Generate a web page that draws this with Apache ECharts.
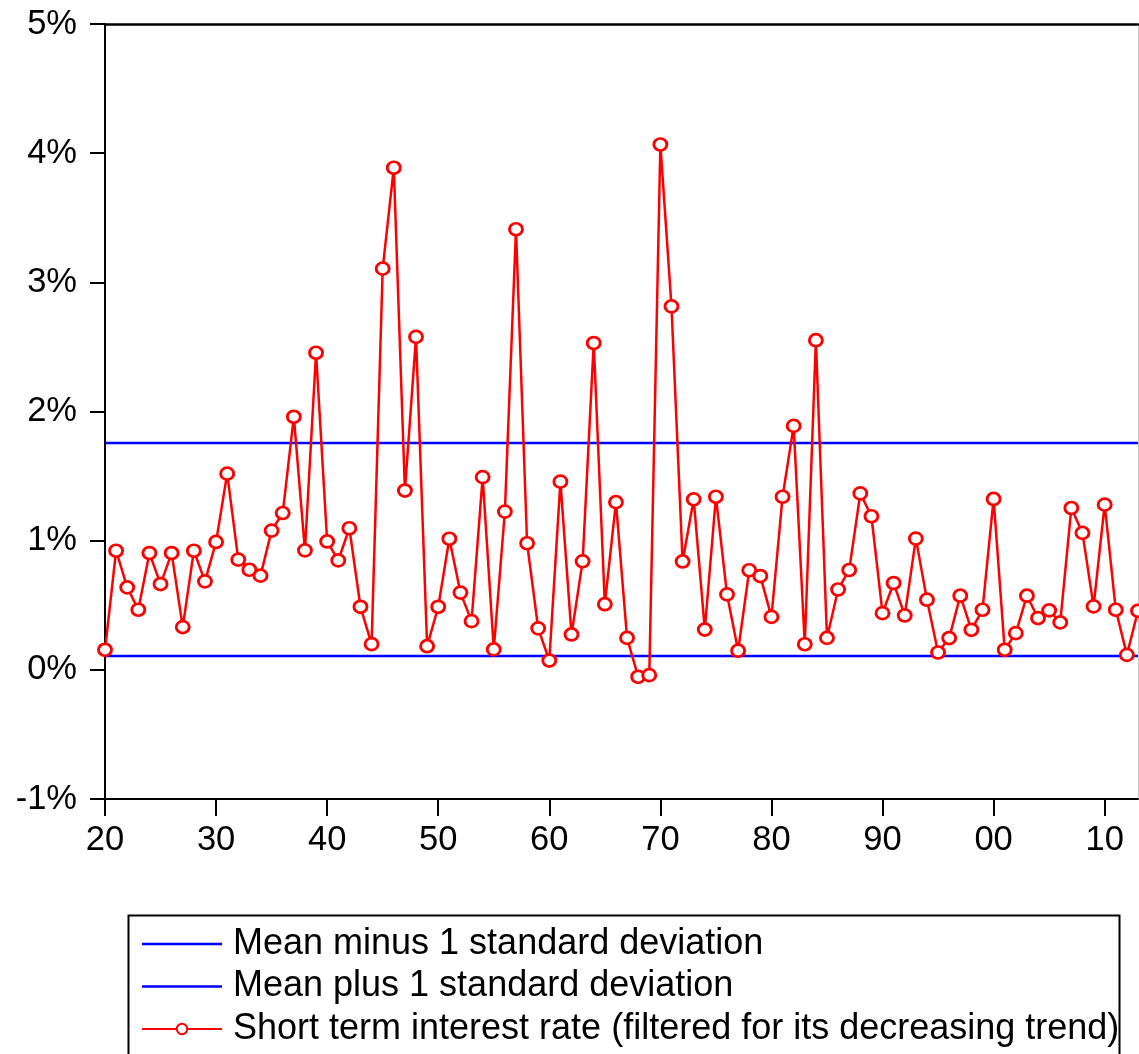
<!DOCTYPE html>
<html>
<head>
<meta charset="utf-8">
<title>Short term interest rate</title>
<script src="https://cdn.jsdelivr.net/npm/echarts@6/dist/echarts.min.js"></script>
<style>
  html, body { margin: 0; padding: 0; background: #ffffff; }
  #chart { width: 1139px; height: 1054px; }
</style>
</head>
<body>
<div id="chart"></div>
<script>
// Years covered by the series
const years = [
  1920, 1921, 1922, 1923, 1924, 1925, 1926, 1927, 1928, 1929,
  1930, 1931, 1932, 1933, 1934, 1935, 1936, 1937, 1938, 1939,
  1940, 1941, 1942, 1943, 1944, 1945, 1946, 1947, 1948, 1949,
  1950, 1951, 1952, 1953, 1954, 1955, 1956, 1957, 1958, 1959,
  1960, 1961, 1962, 1963, 1964, 1965, 1966, 1967, 1968, 1969,
  1970, 1971, 1972, 1973, 1974, 1975, 1976, 1977, 1978, 1979,
  1980, 1981, 1982, 1983, 1984, 1985, 1986, 1987, 1988, 1989,
  1990, 1991, 1992, 1993, 1994, 1995, 1996, 1997, 1998, 1999,
  2000, 2001, 2002, 2003, 2004, 2005, 2006, 2007, 2008, 2009,
  2010, 2011, 2012, 2013
];

// Short term interest rate, filtered for its decreasing trend (%)
const shortRate = [
  0.155, 0.922, 0.638, 0.465, 0.904, 0.664, 0.904, 0.331, 0.922, 0.685,
  0.990, 1.519, 0.853, 0.775, 0.729, 1.078, 1.214, 1.959, 0.925, 2.455,
  0.994, 0.847, 1.096, 0.488, 0.199, 3.106, 3.887, 1.388, 2.578, 0.183,
  0.488, 1.015, 0.598, 0.377, 1.492, 0.158, 1.225, 3.411, 0.980, 0.321,
  0.072, 1.457, 0.274, 0.840, 2.530, 0.508, 1.298, 0.247, -0.054, -0.041,
  4.067, 2.814, 0.839, 1.320, 0.312, 1.340, 0.584, 0.148, 0.771, 0.726,
  0.410, 1.340, 1.889, 0.198, 2.552, 0.247, 0.622, 0.773, 1.366, 1.189,
  0.439, 0.672, 0.421, 1.016, 0.543, 0.134, 0.246, 0.574, 0.310, 0.465,
  1.323, 0.155, 0.284, 0.574, 0.401, 0.460, 0.367, 1.253, 1.060, 0.491,
  1.279, 0.465, 0.116, 0.457
];

// Band levels (%)
const meanMinusSd = 0.108;
const meanPlusSd = 1.757;

// Decade ticks on the time axis and their labels
const decadeTicks = [1920, 1930, 1940, 1950, 1960, 1970, 1980, 1990, 2000, 2010];
const decadeLabels = ['20', '30', '40', '50', '60', '70', '80', '90', '00', '10'];

// Percent ticks on the value axis
const percentTicks = [-1, 0, 1, 2, 3, 4, 5];

const seriesNames = [
  'Mean minus 1 standard deviation',
  'Mean plus 1 standard deviation',
  'Short term interest rate (filtered for its decreasing trend)'
];

const FONT = 'Liberation Sans';
const firstYear = years[0];
const lastYear = years[years.length - 1];

// plain horizontal stroke used as the legend icon of the band lines
const bandIcon = 'path://M0,0 L80,0 L80,2.5 L0,2.5 Z';

const chart = echarts.init(document.getElementById('chart'), null, { renderer: 'canvas' });

const option = {
  animation: false,
  backgroundColor: '#ffffff',
  grid: { left: 105, right: 1, top: 24, bottom: 255, containLabel: false },
  graphic: [
    {
      // legend frame, open at the bottom edge of the page
      type: 'rect',
      left: 126,
      top: 913,
      shape: { width: 991, height: 200 },
      style: { fill: 'none', stroke: '#000000', lineWidth: 2 },
      z: 10
    }
  ],
  legend: {
    orient: 'vertical',
    left: 127,
    top: 914,
    padding: [12, 5, 4, 14],
    itemWidth: 80,
    itemHeight: 13,
    itemGap: 6.5,
    selectedMode: false,
    textStyle: {
      fontFamily: FONT,
      fontSize: 36,
      color: '#000000',
      lineHeight: 36,
      padding: [0, 0, 0, 6]
    },
    data: [
      { name: seriesNames[0], icon: bandIcon },
      { name: seriesNames[1], icon: bandIcon },
      { name: seriesNames[2] }
    ]
  },
  xAxis: [
    {
      type: 'value',
      min: firstYear,
      max: lastYear,
      interval: 10,
      splitLine: { show: false },
      axisLine: { show: true, onZero: false, lineStyle: { color: '#000000', width: 2 } },
      axisTick: {
        show: true, inside: false, length: 17,
        customValues: decadeTicks,
        lineStyle: { color: '#000000', width: 2 }
      },
      axisLabel: {
        margin: 24,
        verticalAlign: 'top',
        showMaxLabel: false,
        fontFamily: FONT,
        fontSize: 34.5,
        color: '#000000',
        formatter: function (v) {
          const i = decadeTicks.indexOf(v);
          return i < 0 ? '' : decadeLabels[i];
        }
      }
    },
    {
      // top frame line
      type: 'value',
      position: 'top',
      min: firstYear,
      max: lastYear,
      axisLine: { show: true, onZero: false, lineStyle: { color: '#000000', width: 2.5 } },
      axisTick: { show: false },
      axisLabel: { show: false },
      splitLine: { show: false }
    }
  ],
  yAxis: [
    {
      type: 'value',
      min: -1,
      max: 5,
      interval: 1,
      splitLine: { show: false },
      axisLine: { show: true, onZero: false, lineStyle: { color: '#000000', width: 2 } },
      axisTick: {
        show: true, inside: false, length: 15,
        customValues: percentTicks,
        lineStyle: { color: '#000000', width: 2 }
      },
      axisLabel: {
        margin: 28,
        fontFamily: FONT,
        fontSize: 34.5,
        color: '#000000',
        formatter: function (v) { return v + '%'; }
      }
    },
    {
      // right frame line
      type: 'value',
      position: 'right',
      min: -1,
      max: 5,
      axisLine: { show: true, onZero: false, lineStyle: { color: '#c8c8c8', width: 1 } },
      axisTick: { show: false },
      axisLabel: { show: false },
      splitLine: { show: false }
    }
  ],
  series: [
    {
      name: seriesNames[0],
      type: 'line',
      symbol: 'none',
      color: '#0000ff',
      lineStyle: { color: '#0000ff', width: 2.5 },
      data: [[firstYear, meanMinusSd], [lastYear, meanMinusSd]],
      z: 2
    },
    {
      name: seriesNames[1],
      type: 'line',
      symbol: 'none',
      color: '#0000ff',
      lineStyle: { color: '#0000ff', width: 2.5 },
      data: [[firstYear, meanPlusSd], [lastYear, meanPlusSd]],
      z: 2
    },
    {
      name: seriesNames[2],
      type: 'line',
      color: '#ff0000',
      symbol: 'circle',
      symbolSize: [13, 12],
      showAllSymbol: true,
      lineStyle: { color: '#ff0000', width: 2.5 },
      itemStyle: { color: '#ffffff', borderColor: '#ff0000', borderWidth: 2.8 },
      data: years.map(function (y, i) { return [y, shortRate[i]]; }),
      z: 3
    }
  ]
};

chart.setOption(option);
</script>
</body>
</html>
